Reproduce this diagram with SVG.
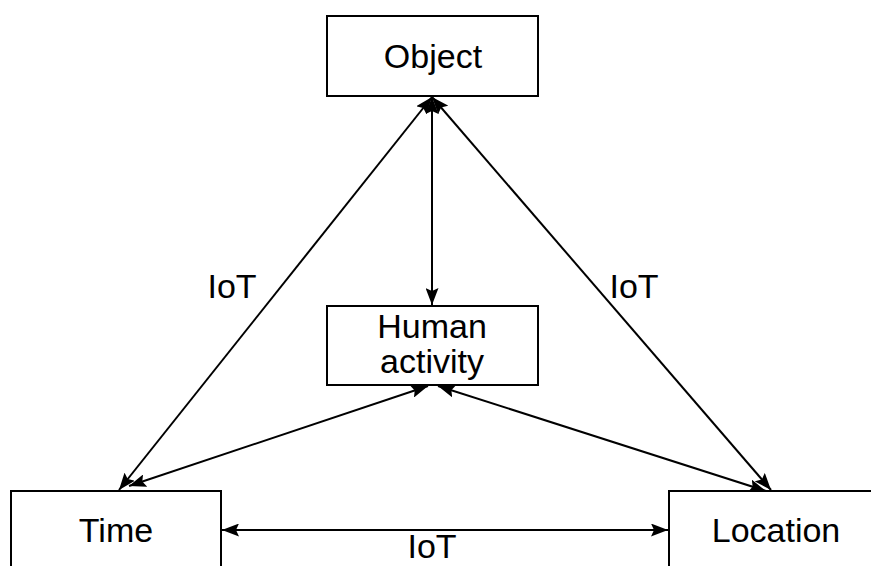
<svg xmlns="http://www.w3.org/2000/svg" width="871" height="566" viewBox="0 0 871 566">
<style>
.box{fill:#fff;stroke:#000;stroke-width:2}
.t{font-family:"Liberation Sans",Arial,sans-serif;font-size:34px;fill:#000;text-anchor:middle}
.c{stroke:#000;stroke-width:2;fill:none;marker-start:url(#ah);marker-end:url(#ah)}
</style>
<defs>
<marker id="ah" viewBox="0 0 17 13" refX="17" refY="6.5" markerWidth="17" markerHeight="13" markerUnits="userSpaceOnUse" orient="auto-start-reverse">
<path d="M0,0 L17,6.5 L0,13 L3,6.5 Z" fill="#000"/>
</marker>
</defs>
<rect width="871" height="566" fill="#fff"/>
<g id="connectors">
<line class="c" x1="432" y1="97" x2="432" y2="305"/>
<line class="c" x1="432" y1="97" x2="119" y2="490"/>
<line class="c" x1="432" y1="97" x2="771" y2="490"/>
<line class="c" x1="129" y1="486" x2="428" y2="386"/>
<line class="c" x1="438" y1="386" x2="766" y2="491"/>
<line class="c" x1="222" y1="530" x2="668" y2="530"/>
</g>
<g id="object"><rect class="box" x="327" y="16" width="211" height="80"/><text class="t" x="433" y="68">Object</text></g>
<g id="human"><rect class="box" x="327" y="306" width="211" height="79"/><text class="t" x="432" y="338">Human</text><text class="t" x="432" y="373">activity</text></g>
<g id="time"><rect class="box" x="11" y="491" width="210" height="90"/><text class="t" x="116" y="542">Time</text></g>
<g id="location"><rect class="box" x="669" y="491" width="220" height="90"/><text class="t" x="776" y="542">Location</text></g>
<g id="labels">
<text class="t" x="232" y="298">IoT</text>
<text class="t" x="634" y="298">IoT</text>
<text class="t" x="432" y="558">IoT</text>
</g>
</svg>
